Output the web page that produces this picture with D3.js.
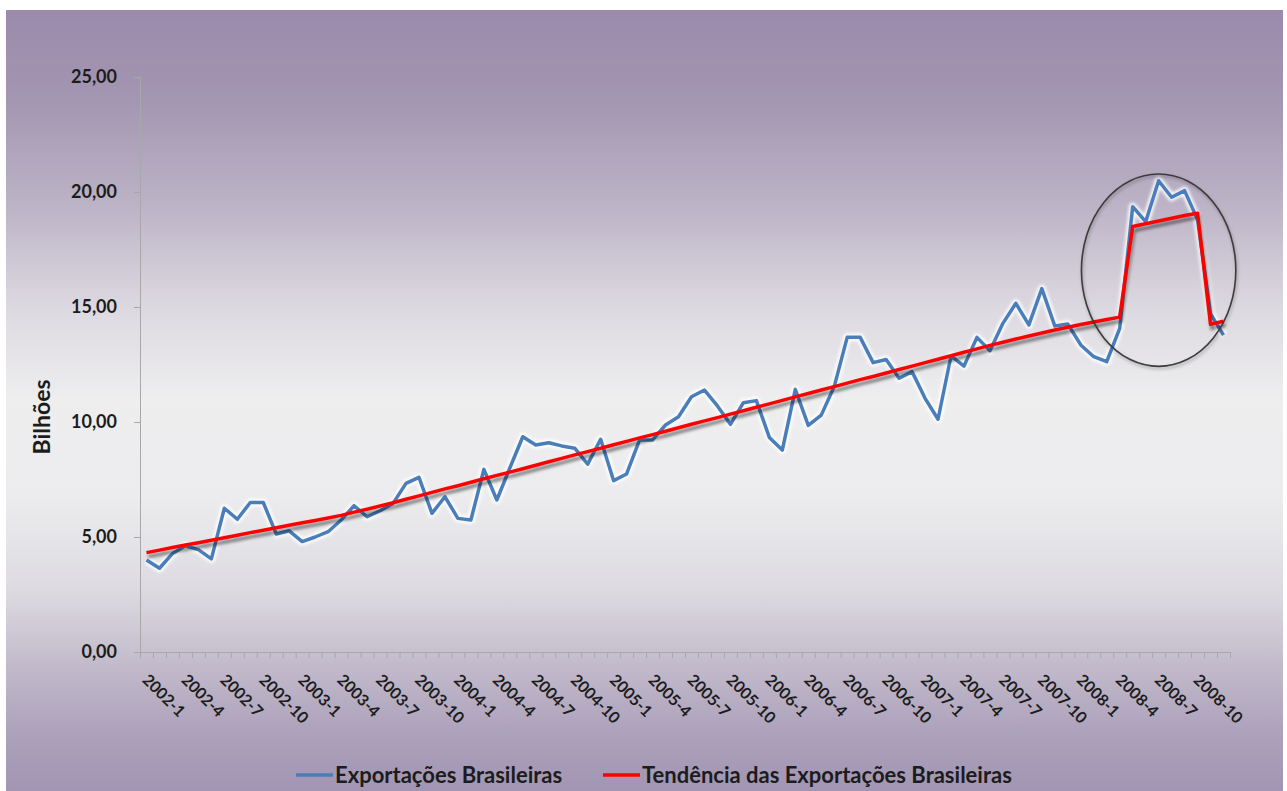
<!DOCTYPE html>
<html>
<head>
<meta charset="utf-8">
<script src="https://cdn.jsdelivr.net/npm/d3@7"></script>
<style>
  html, body { margin: 0; padding: 0; background: #ffffff; }
  svg { display: block; }
  text { font-family: Lato, "Open Sans", sans-serif; font-weight: 700; fill: #1c1c1c; }
</style>
</head>
<body>
<svg id="chart" width="1287" height="791"></svg>
<script>
// Monthly Brazilian exports (billions), Jan 2002 – Dec 2008
const years = [2002, 2003, 2004, 2005, 2006, 2007, 2008];
const monthNumbers = [1, 2, 3, 4, 5, 6, 7, 8, 9, 10, 11, 12];
const months = years.flatMap(y => monthNumbers.map(m => `${y}-${m}`));

const exportValues = [
  4.00, 3.64, 4.28, 4.62, 4.45, 4.05, 6.25, 5.77, 6.50, 6.50, 5.13, 5.27,
  4.80, 5.00, 5.23, 5.74, 6.36, 5.88, 6.14, 6.46, 7.33, 7.59, 6.03, 6.75,
  5.81, 5.74, 7.94, 6.61, 8.00, 9.36, 9.00, 9.10, 8.96, 8.86, 8.17, 9.25,
  7.45, 7.74, 9.22, 9.22, 9.87, 10.23, 11.10, 11.39, 10.70, 9.90, 10.84, 10.93,
  9.33, 8.78, 11.42, 9.85, 10.30, 11.54, 13.68, 13.68, 12.58, 12.72, 11.90, 12.19,
  11.03, 10.12, 12.87, 12.43, 13.68, 13.10, 14.29, 15.16, 14.22, 15.80, 14.17, 14.26,
  13.35, 12.84, 12.62, 14.07, 19.36, 18.71, 20.49, 19.77, 20.06, 18.80, 14.70, 13.78
];

const trendValues = [
  4.32, 4.43, 4.54, 4.65, 4.75, 4.86, 4.97, 5.08, 5.19, 5.29, 5.40, 5.51,
  5.62, 5.72, 5.83, 5.94, 6.08, 6.21, 6.35, 6.49, 6.64, 6.79, 6.94, 7.09,
  7.23, 7.38, 7.53, 7.68, 7.82, 7.97, 8.12, 8.27, 8.42, 8.57, 8.71, 8.86,
  9.01, 9.16, 9.31, 9.45, 9.60, 9.75, 9.90, 10.05, 10.19, 10.34, 10.49, 10.64,
  10.79, 10.94, 11.09, 11.24, 11.39, 11.54, 11.69, 11.84, 11.98, 12.13, 12.28, 12.43,
  12.58, 12.73, 12.88, 13.03, 13.18, 13.33, 13.47, 13.61, 13.74, 13.87, 14.00, 14.12,
  14.24, 14.35, 14.46, 14.56, 18.50, 18.62, 18.74, 18.86, 18.98, 19.08, 14.25, 14.38
];

const yTicks = [0, 5, 10, 15, 20, 25];
const labelEvery = 3;
const seriesNames = ["Exportações Brasileiras", "Tendência das Exportações Brasileiras"];
const yTitle = "Bilhões";

// Highlight around the 2008 peak: centre month, centre value, half-width (months), half-height (value)
const highlight = { month: "2008-7", value: 16.6, halfMonths: 5.95, halfValue: 4.18 };

const svg = d3.select("#chart");
const W = 1287, H = 791;
const plot = { left: 140, right: 1230, top: 77, bottom: 652 };

const defs = svg.append("defs");
const bg = defs.append("linearGradient").attr("id", "bgGrad")
  .attr("x1", 0).attr("y1", 0).attr("x2", 0).attr("y2", 1);
[
  [0.00, "#9b8aac"], [0.12, "#a497b2"], [0.25, "#bcb3c6"], [0.38, "#dcd8e0"],
  [0.50, "#eeeeef"], [0.62, "#ececee"], [0.74, "#dddbe1"], [0.84, "#c2bacb"],
  [0.92, "#aea3bc"], [1.00, "#a195b3"]
].forEach(([o, c]) => bg.append("stop").attr("offset", o).attr("stop-color", c));

const glow = defs.append("filter").attr("id", "glow").attr("x", "-5%").attr("y", "-5%").attr("width", "110%").attr("height", "110%");
glow.append("feGaussianBlur").attr("stdDeviation", 1.6);

const shadow = defs.append("filter").attr("id", "shadow").attr("x", "-5%").attr("y", "-10%").attr("width", "110%").attr("height", "120%");
shadow.append("feGaussianBlur").attr("stdDeviation", 1.8);

// background panel
svg.append("rect").attr("x", 6).attr("y", 10).attr("width", W - 10).attr("height", H - 10)
  .attr("fill", "url(#bgGrad)");

// scales
const x = d3.scaleBand().domain(months).range([plot.left, plot.right]).padding(0);
const xc = d => x(d) + x.bandwidth() / 2;
const xIdx = d3.scaleLinear().domain([0, months.length]).range([plot.left, plot.right]);
const y = d3.scaleLinear().domain([0, 25]).range([plot.bottom, plot.top]);

const fmt = v => d3.format(".2f")(v).replace(".", ",");

// y axis
const yAxis = svg.append("g").attr("transform", `translate(${plot.left},0)`)
  .call(d3.axisLeft(y).tickValues(yTicks).tickFormat(fmt).tickSize(6).tickPadding(17));
yAxis.select(".domain").attr("stroke", "#a8a8a8");
yAxis.selectAll(".tick line").attr("stroke", "#a8a8a8");
yAxis.selectAll(".tick text").attr("font-size", 18).attr("fill", "#1c1c1c")
  .attr("font-family", "Lato, sans-serif").attr("font-weight", 700);

// x axis: tick marks at category boundaries
const xAxis = svg.append("g").attr("transform", `translate(0,${plot.bottom})`)
  .call(d3.axisBottom(xIdx).tickValues(d3.range(months.length + 1)).tickFormat("").tickSize(6).tickSizeOuter(0));
xAxis.select(".domain").attr("stroke", "#a8a8a8");
xAxis.selectAll(".tick line").attr("stroke", "#a8a8a8");

// rotated category labels
svg.append("g").selectAll("text")
  .data(months.filter((m, i) => i % labelEvery === 0))
  .join("text")
  .attr("transform", d => `translate(${xc(d) - 5},${plot.bottom + 29}) rotate(45)`)
  .attr("font-size", 16)
  .attr("text-anchor", "start")
  .text(d => d);

// y title
svg.append("text")
  .attr("transform", `translate(50,417) rotate(-90)`)
  .attr("text-anchor", "middle")
  .attr("font-size", 23)
  .text(yTitle);

const line = d3.line().x((d, i) => xc(months[i])).y(d => y(d));

// export series with soft white glow
svg.append("path").datum(exportValues).attr("d", line)
  .attr("fill", "none").attr("stroke", "#ffffff").attr("stroke-width", 8)
  .attr("stroke-opacity", 0.85).attr("stroke-linejoin", "round").attr("filter", "url(#glow)");
svg.append("path").datum(exportValues).attr("d", line)
  .attr("fill", "none").attr("stroke", "#4a7ebb").attr("stroke-width", 3.5)
  .attr("stroke-linejoin", "round");

// trend series with drop shadow
svg.append("path").datum(trendValues).attr("d", line)
  .attr("transform", "translate(1.5,4)")
  .attr("fill", "none").attr("stroke", "#000000").attr("stroke-opacity", 0.45)
  .attr("stroke-width", 3.5).attr("filter", "url(#shadow)");
svg.append("path").datum(trendValues).attr("d", line)
  .attr("fill", "none").attr("stroke", "#ff0000").attr("stroke-width", 3.5)
  .attr("stroke-linejoin", "round");

// highlight ellipse
const hcx = xc(highlight.month), hcy = y(highlight.value);
const hrx = highlight.halfMonths * x.bandwidth();
const hry = y(0) - y(highlight.halfValue);
svg.append("ellipse").attr("cx", hcx + 1).attr("cy", hcy + 2).attr("rx", hrx).attr("ry", hry)
  .attr("fill", "none").attr("stroke", "#000").attr("stroke-opacity", 0.2).attr("stroke-width", 2.5)
  .attr("filter", "url(#shadow)");
svg.append("ellipse").attr("cx", hcx).attr("cy", hcy).attr("rx", hrx).attr("ry", hry)
  .attr("fill", "none").attr("stroke", "#3c3c3c").attr("stroke-width", 1.6);

// legend
const legendItems = [
  { name: seriesNames[0], color: "#4a7ebb", x: 296 },
  { name: seriesNames[1], color: "#ff0000", x: 603 }
];
const lg = svg.append("g").attr("transform", "translate(0,775)");
legendItems.forEach(it => {
  lg.append("line").attr("x1", it.x).attr("x2", it.x + 37).attr("y1", 0).attr("y2", 0)
    .attr("stroke", it.color).attr("stroke-width", 3.5);
  lg.append("text").attr("x", it.x + 39).attr("y", 8).attr("font-size", 22).text(it.name);
});
</script>
</body>
</html>
